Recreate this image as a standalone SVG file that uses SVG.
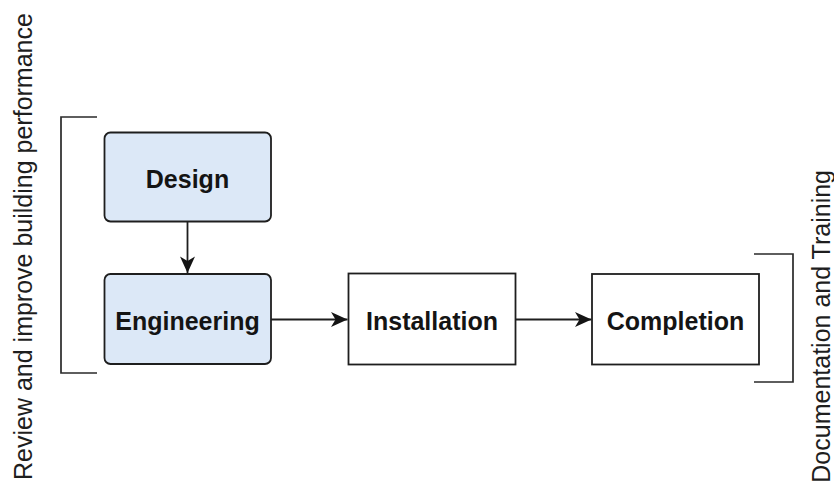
<svg xmlns="http://www.w3.org/2000/svg" width="834" height="483" viewBox="0 0 834 483">
  <style>
    .box { stroke: #1e1e1e; stroke-width: 1.8; }
    .phase { fill: #dce8f7; }
    .plain { fill: #ffffff; }
    .label { font-family: "Liberation Sans", Arial, sans-serif; font-size: 25px; font-weight: bold; fill: #141414; text-anchor: middle; }
    .side { font-family: "Liberation Sans", Arial, sans-serif; font-size: 25px; fill: #1e1e1e; }
    .edge { fill: none; stroke: #1e1e1e; stroke-width: 1.8; }
    .bracket { fill: none; stroke: #2a2a2a; stroke-width: 1.7; }
  </style>
  <defs>
    <marker id="arrow" markerUnits="userSpaceOnUse" markerWidth="18" markerHeight="16" viewBox="-17 -8 18 16" refX="0" refY="0" orient="auto">
      <path d="M0,0 L-16.5,-7.5 L-12,0 L-16.5,7.5 Z" fill="#141414"/>
    </marker>
  </defs>

  <rect width="834" height="483" fill="#ffffff"/>

  <!-- side brackets with their captions -->
  <g id="review-bracket">
    <path class="bracket" d="M97,117 H61 V373 H97"/>
    <text class="side" transform="translate(32,480) rotate(-90)">Review and improve building performance</text>
  </g>
  <g id="documentation-bracket">
    <path class="bracket" d="M754,254 H793 V382 H754"/>
    <text class="side" text-anchor="end" transform="translate(830,170) rotate(-90)">Documentation and Training</text>
  </g>

  <!-- connectors -->
  <g id="connectors">
    <line class="edge" x1="187.5" y1="222" x2="187.5" y2="273" marker-end="url(#arrow)"/>
    <line class="edge" x1="271" y1="319.5" x2="347.5" y2="319.5" marker-end="url(#arrow)"/>
    <line class="edge" x1="516" y1="319.5" x2="591.5" y2="319.5" marker-end="url(#arrow)"/>
  </g>

  <!-- process steps -->
  <g id="design">
    <rect class="box phase" x="104.5" y="132.5" width="166.5" height="89" rx="6"/>
    <text class="label" x="187.5" y="188">Design</text>
  </g>
  <g id="engineering">
    <rect class="box phase" x="104.5" y="274" width="166.5" height="90" rx="6"/>
    <text class="label" x="187.5" y="330">Engineering</text>
  </g>
  <g id="installation">
    <rect class="box plain" x="348.5" y="273.5" width="167" height="91"/>
    <text class="label" x="432" y="330">Installation</text>
  </g>
  <g id="completion">
    <rect class="box plain" x="592" y="274" width="167" height="90.5"/>
    <text class="label" x="675.5" y="330">Completion</text>
  </g>
</svg>
